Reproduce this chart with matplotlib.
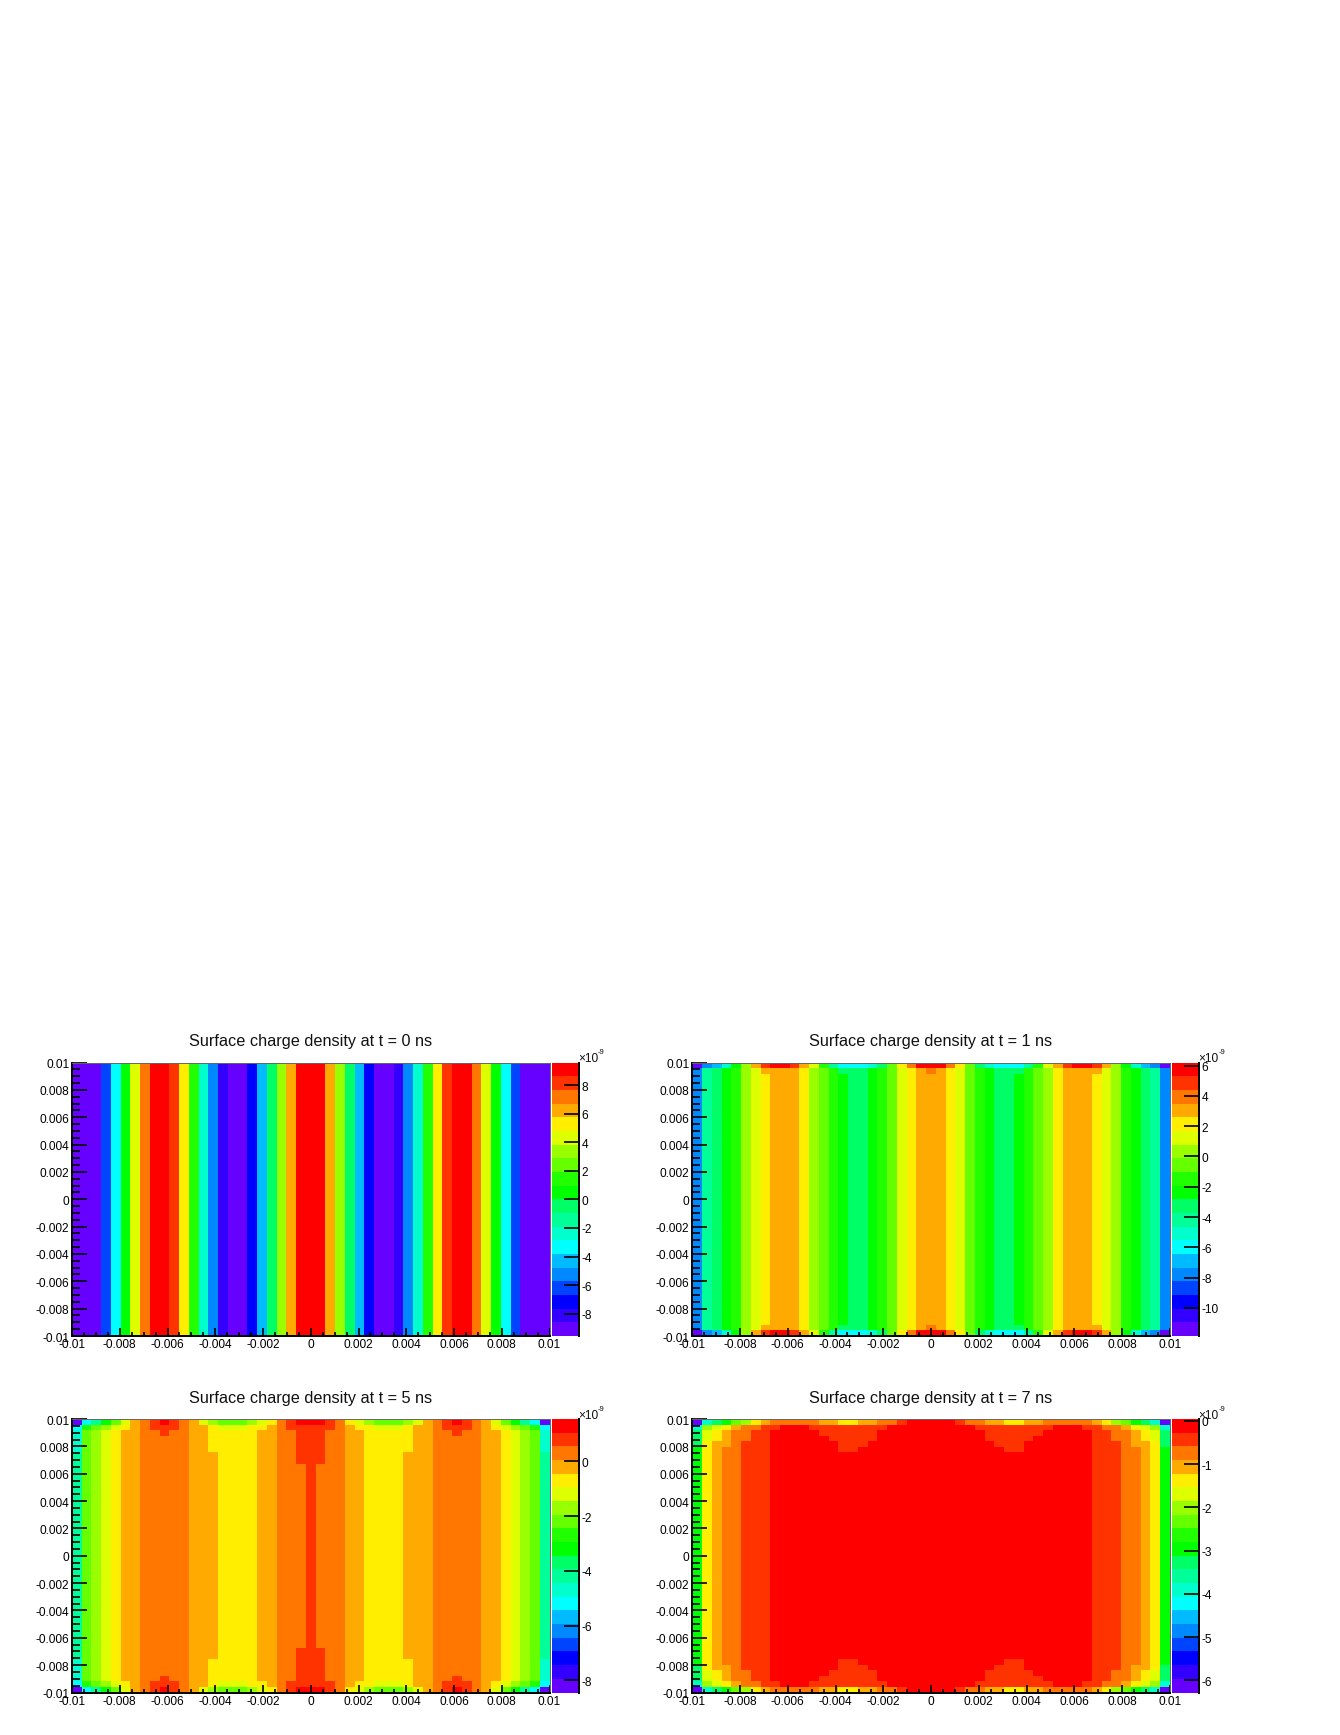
import matplotlib
matplotlib.use("Agg")
import matplotlib.pyplot as plt
from matplotlib.colors import ListedColormap, BoundaryNorm
from matplotlib.ticker import MultipleLocator
from matplotlib.transforms import ScaledTranslation
import numpy as np

plt.rcParams['font.family'] = ['Liberation Sans', 'DejaVu Sans']

W, H = 1340, 1735

# root style rainbow palette, bottom to top of the z scale
palette = ['#6600ff', '#3300ff', '#0000ff', '#0044ff', '#0088ff', '#00bbff', '#00ffff',
           '#00ffcc', '#00ff99', '#00ff66', '#00ff00', '#22ff00', '#66ff00', '#99ff00',
           '#ddff00', '#ffee00', '#ffaa00', '#ff7700', '#ff3300', '#ff0000']

x_ticks = [-0.01, -0.008, -0.006, -0.004, -0.002, 0, 0.002, 0.004, 0.006, 0.008, 0.01]
x_labels = ['-0.01', '-0.008', '-0.006', '-0.004', '-0.002', '0', '0.002', '0.004', '0.006', '0.008', '0.01']

# the map is symmetric, so only the left half of each row (columns 0..24) is kept.
t0_mid = [0, 0, 0, 3, 6, 10, 14, 17, 19, 19, 18, 15, 11, 7, 4, 1, 0, 0, 2, 5, 9, 13, 16, 19, 19]
t0_rows = [t0_mid]
t0_counts = [25]
t0_range = (-9.57, 9.6)
t0_zticks = [-8, -6, -4, -2, 0, 2, 4, 6, 8]

t1_top = [0, 4, 5, 7, 10, 13, 16, 18, 19, 19, 18, 16, 14, 11, 8, 6, 6, 6, 7, 9, 12, 15, 17, 19, 19]
t1_second = [4, 8, 9, 10, 11, 13, 14, 16, 16, 16, 16, 15, 13, 12, 11, 9, 9, 9, 10, 11, 12, 14, 15, 16, 17]
t1_mid = [4, 8, 9, 10, 11, 13, 14, 15, 16, 16, 16, 15, 13, 12, 11, 10, 9, 9, 10, 11, 12, 14, 15, 16, 16]
t1_rows = [t1_top, t1_second, t1_mid]
t1_counts = [1, 1, 23]
t1_range = (-11.85, 6.2)
t1_zticks = [-10, -8, -6, -4, -2, 0, 2, 4, 6]

t5_r0 = [0, 6, 8, 10, 12, 14, 16, 17, 18, 19, 18, 17, 16, 14, 13, 12, 12, 12, 13, 14, 15, 17, 18, 19, 19]
t5_r1 = [6, 11, 12, 13, 14, 15, 16, 17, 18, 18, 18, 17, 16, 16, 15, 14, 14, 14, 15, 15, 16, 17, 18, 18, 18]
t5_r2 = [7, 12, 13, 14, 15, 16, 16, 17, 17, 18, 17, 17, 16, 16, 15, 15, 15, 15, 15, 16, 16, 17, 17, 18, 18]
t5_r3 = [7, 12, 13, 14, 15, 16, 16, 17, 17, 17, 17, 17, 16, 16, 15, 15, 15, 15, 15, 16, 16, 17, 17, 18, 18]
t5_r6 = [8, 12, 13, 14, 15, 16, 16, 17, 17, 17, 17, 17, 16, 16, 16, 15, 15, 15, 15, 16, 16, 17, 17, 18, 18]
t5_mid = [8, 12, 13, 14, 15, 16, 16, 17, 17, 17, 17, 17, 16, 16, 16, 15, 15, 15, 15, 16, 16, 17, 17, 17, 18]
t5_rows = [t5_r0, t5_r1, t5_r2, t5_r3, t5_r6, t5_mid]
t5_counts = [1, 1, 1, 3, 2, 17]
t5_range = (-8.44, 1.54)
t5_zticks = [-8, -6, -4, -2, 0]

t7_r0 = [0, 7, 9, 10, 12, 13, 15, 16, 17, 17, 17, 17, 17, 16, 16, 15, 15, 16, 16, 17, 17, 18, 19, 19, 19]
t7_r1 = [7, 13, 14, 15, 16, 17, 17, 18, 18, 19, 19, 19, 18, 18, 18, 18, 18, 18, 18, 18, 19, 19, 19, 19, 19]
t7_r2 = [9, 14, 15, 16, 17, 17, 18, 18, 19, 19, 19, 19, 19, 18, 18, 18, 18, 18, 18, 19, 19, 19, 19, 19, 19]
t7_r3 = [9, 14, 15, 16, 17, 17, 18, 18, 19, 19, 19, 19, 19, 19, 18, 18, 18, 18, 18, 19, 19, 19, 19, 19, 19]
t7_r4 = [9, 15, 16, 16, 17, 18, 18, 18, 19, 19, 19, 19, 19, 19, 19, 18, 18, 18, 19, 19, 19, 19, 19, 19, 19]
t7_r5 = [10, 15, 16, 17, 17, 18, 18, 18, 19, 19, 19, 19, 19, 19, 19, 18, 18, 19, 19, 19, 19, 19, 19, 19, 19]
t7_mid = [10, 15, 16, 17, 17, 18, 18, 18, 19, 19, 19, 19, 19, 19, 19, 19, 19, 19, 19, 19, 19, 19, 19, 19, 19]
t7_rows = [t7_r0, t7_r1, t7_r2, t7_r3, t7_r4, t7_r5, t7_mid]
t7_counts = [1, 1, 1, 1, 1, 1, 19]
t7_range = (-6.28, 0.04)
t7_zticks = [-6, -5, -4, -3, -2, -1, 0]


def px_axes(x0, y0, x1, y1):
    # pixel box, y measured from the top of the image
    return fig.add_axes([x0 / W, 1 - y1 / H, (x1 - x0) / W, (y1 - y0) / H])


def build_grid(rows, counts):
    half = []
    for r, c in zip(rows, counts):
        half += [r] * c
    half = np.array(half)                         # 25 rows x 25 columns, top to middle
    full = np.hstack([half, half[:, -2::-1]])     # mirror left/right
    full = np.vstack([full, full[-2::-1]])        # mirror top/bottom
    return full[::-1]                             # first row is y = -0.01


def nudge_labels(labels):
    # tick labels sit a pixel lower than matplotlib puts them
    down = ScaledTranslation(0, -1.0 / 100, fig.dpi_scale_trans)
    for lab in labels:
        lab.set_transform(lab.get_transform() + down)


def draw_panel(x0, y0, rows, counts, zrange, zticks, t):
    x1 = x0 + 477.5
    y1 = y0 + 273.5
    zmin, zmax = zrange
    levels = np.linspace(zmin, zmax, 21)
    cmap = ListedColormap(palette)
    norm = BoundaryNorm(levels, cmap.N)

    # band number to charge density, in units of 1e-9
    z = zmin + (build_grid(rows, counts) + 0.5) * (zmax - zmin) / 20
    edges = np.linspace(-0.01, 0.01, 50)

    ax = px_axes(x0, y0, x1, y1)
    ax.pcolormesh(edges, edges, z, cmap=cmap, norm=norm, linewidth=0, antialiased=True)
    ax.set_xlim(-0.01, 0.01)
    ax.set_ylim(-0.01, 0.01)
    ax.set_xticks(x_ticks)
    ax.set_xticklabels(x_labels)
    ax.set_yticks(x_ticks)
    ax.set_yticklabels(x_labels)
    ax.xaxis.set_minor_locator(MultipleLocator(0.0005))
    ax.yaxis.set_minor_locator(MultipleLocator(0.0005))
    ax.tick_params(axis='x', which='major', direction='in', length=6, width=1.2, labelsize=8.6, pad=2.5)
    ax.tick_params(axis='x', which='minor', direction='in', length=3, width=1.2)
    ax.tick_params(axis='y', which='major', direction='in', length=10.5, width=1.2, labelsize=8.6, pad=2)
    ax.tick_params(axis='y', which='minor', direction='in', length=5.5, width=1.2)
    nudge_labels(ax.get_yticklabels())
    for s in ['left', 'bottom']:
        ax.spines[s].set_linewidth(1.4)
    for s in ['top', 'right']:
        ax.spines[s].set_linewidth(0.7)
        ax.spines[s].set_color('#666666')

    fig.text((x0 + x1) / 2 / W, 1 - (y0 - 21) / H, 'Surface charge density at t = %d ns' % t,
             ha='center', va='center', fontsize=11.7, color='#111111')

    # colour scale
    cax = px_axes(x1 + 2.5, y0, x1 + 29, y1)
    cax.pcolormesh([0, 1], levels, (levels[:-1] + np.diff(levels) / 2).reshape(-1, 1),
                   cmap=cmap, norm=norm, linewidth=0, rasterized=True)
    cax.set_xlim(0, 1)
    cax.set_ylim(zmin, zmax)
    cax.set_xticks([])
    cax.yaxis.tick_right()
    cax.set_yticks(zticks)
    cax.set_yticklabels([str(v) for v in zticks])
    cax.tick_params(axis='y', direction='in', length=10.5, width=1.2, labelsize=8.6, pad=2)
    nudge_labels(cax.get_yticklabels())
    for s in ['left', 'top', 'bottom']:
        cax.spines[s].set_visible(False)
    cax.spines['right'].set_linewidth(1.4)

    fig.text((x1 + 28.5) / W, 1 - (y0 - 3.5) / H, '\u00d710', ha='left', va='center', fontsize=8.6, color='#111111')
    fig.text((x1 + 48.5) / W, 1 - (y0 - 9.5) / H, '-9', ha='left', va='center', fontsize=5.5, color='#111111')


fig = plt.figure(figsize=(W / 100, H / 100), dpi=100)

draw_panel(72, 1062.5, t0_rows, t0_counts, t0_range, t0_zticks, 0)
draw_panel(692.3, 1062.5, t1_rows, t1_counts, t1_range, t1_zticks, 1)
draw_panel(72, 1419, t5_rows, t5_counts, t5_range, t5_zticks, 5)
draw_panel(692.3, 1419, t7_rows, t7_counts, t7_range, t7_zticks, 7)

fig.savefig('out.png', dpi=100)
